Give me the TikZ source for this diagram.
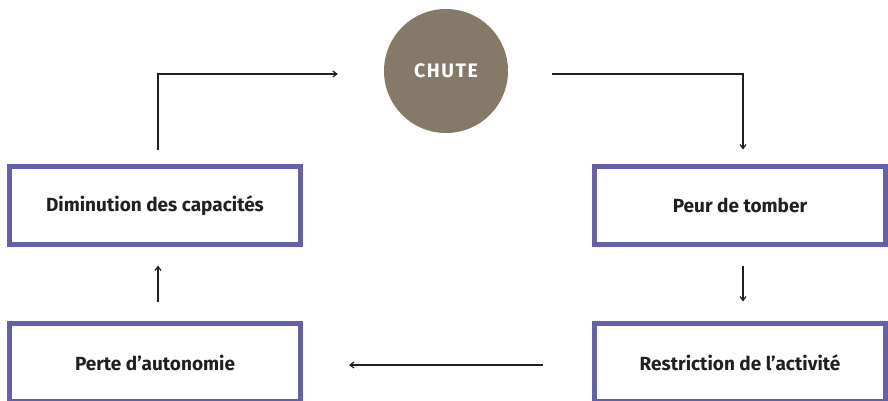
\documentclass[tikz,border=0pt]{standalone}
\usepackage{fontspec}
\setmainfont{Fira Sans}
\newfontfamily\chutefont[LetterSpace=8]{Fira Sans}
\usepackage{tikz}
\usetikzlibrary{arrows.meta}
\definecolor{violet}{HTML}{6461AB}
\definecolor{taupe}{HTML}{857968}
\definecolor{encre}{HTML}{231F20}

\begin{document}
\begin{tikzpicture}[x=1pt,y=-1pt,
    etape/.style={draw=violet,line width=5pt,minimum width=291pt,minimum height=78pt,
      font=\fontsize{19}{22}\selectfont\bfseries,text=encre},
    rond/.style={circle,fill=taupe,minimum size=124pt,inner sep=0pt,
      font=\chutefont\fontsize{19.5}{22}\selectfont\bfseries,text=white},
    fleche/.style={draw=encre,line width=1.2pt,-{Straight Barb[length=4pt,width=6pt]}}]
    \clip (0,0) rectangle (888,400);
    \node[rond] (chute) at (446,71) {CHUTE};
    \node[etape] (dim) at (155,205.5) {Diminution des capacités};
    \node[etape] (peur) at (740,205.5) {Peur de tomber};
    \node[etape] (restr) at (740,362.5) {Restriction de l’activité};
    \node[etape] (perte) at (155,362.5) {Perte d’autonomie};
    \draw[fleche,shorten <=14.5pt,shorten >=46pt]
      ([xshift=3pt]dim.north) |- ([yshift=-3pt]chute.west);
    \draw[fleche,shorten <=44pt,shorten >=14.5pt]
      ([yshift=-3pt]chute.east) -| ([xshift=3pt]peur.north);
    \draw[fleche,shorten <=18.5pt,shorten >=19.5pt]
      ([xshift=3pt]peur.south) -- ([xshift=3pt]restr.north);
    \draw[fleche,shorten <=49pt,shorten >=46pt]
      ([yshift=-2.5pt]restr.west) -- ([yshift=-2.5pt]perte.east);
    \draw[fleche,shorten <=19.5pt,shorten >=18.5pt]
      ([xshift=3pt]perte.north) -- ([xshift=3pt]dim.south);
  \end{tikzpicture}
\end{document}
